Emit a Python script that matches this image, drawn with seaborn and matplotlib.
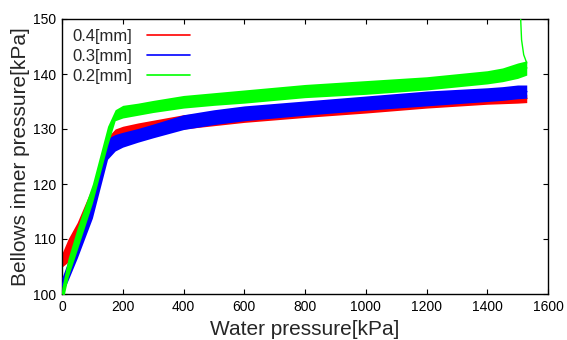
import pandas as pd
import seaborn as sns
import matplotlib
matplotlib.use('Agg')
import matplotlib.pyplot as plt

# Pressão de água [kPa] nos pontos
water_pressure = [0, 20, 50, 100, 150, 175, 200, 250, 300, 400, 500, 600, 800,
                  1000, 1200, 1400, 1450, 1500, 1530]

# Faixa (mínimo / máximo) da pressão interna do fole em cada ponto
low_04 = [104.9, 105.8, 109.5, 115.8, 125.0, 127.3, 128.0, 128.6, 129.1, 130.0, 130.6,
          131.2, 132.1, 132.9, 133.8, 134.5, 134.6, 134.7, 134.8]
high_04 = [107.4, 110.0, 113.0, 119.5, 128.5, 130.0, 130.5, 131.1, 131.6, 132.6, 133.0,
           133.3, 134.0, 134.8, 135.6, 136.2, 136.2, 136.3, 136.3]

low_03 = [100.0, 102.5, 106.5, 113.8, 124.5, 126.0, 126.7, 127.6, 128.4, 129.9, 130.8,
          131.5, 132.5, 133.4, 134.2, 135.0, 135.2, 135.5, 135.6]
high_03 = [103.0, 106.0, 110.2, 117.5, 128.3, 129.0, 129.4, 130.1, 130.9, 132.6, 133.5,
           134.2, 135.1, 136.0, 136.9, 137.5, 137.7, 138.0, 138.0]

low_02 = [98.0, 103.0, 108.0, 116.5, 127.0, 131.5, 132.0, 132.5, 133.0, 133.8, 134.3,
          134.7, 135.7, 136.3, 137.1, 138.2, 138.6, 139.2, 139.8]
high_02 = [101.3, 106.5, 112.0, 120.0, 130.5, 133.5, 134.3, 134.7, 135.2, 136.1, 136.6,
           137.1, 138.1, 138.8, 139.5, 140.6, 141.1, 142.0, 142.4]

# Subida final da série 0.2[mm]
spike_x = [1530, 1520, 1513, 1510, 1509]
spike_y = [142.0, 143.5, 146.2, 150.0, 153.0]

series = [
    ('0.4[mm]', low_04, high_04, '#ff0000'),
    ('0.3[mm]', low_03, high_03, '#0000ff'),
    ('0.2[mm]', low_02, high_02, '#00ff00'),
]

sns.set_style('ticks')
plt.rcParams['font.family'] = ['Liberation Sans', 'DejaVu Sans']

fig = plt.figure(figsize=(5.67, 3.4), dpi=100)
ax = fig.add_axes([62 / 567, 1 - 294 / 340, 486 / 567, 275 / 340])

for i, (name, low, high, color) in enumerate(series):
    df = pd.DataFrame({
        'x': water_pressure + water_pressure,
        'y': low + high,
    })
    sns.lineplot(data=df, x='x', y='y', ax=ax, color=color, label=name,
                 errorbar=('pi', 100), linewidth=1.2, zorder=2 + i + 0.5,
                 err_kws={'alpha': 1, 'linewidth': 0, 'zorder': 2 + i})

sns.lineplot(x=spike_x, y=spike_y, ax=ax, color='#00ff00', sort=False,
             estimator=None, linewidth=1.0, zorder=4.6)

ax.set_xlim(0, 1600)
ax.set_ylim(100, 150)
ax.set_xticks(range(0, 1601, 200))
ax.set_yticks(range(100, 151, 10))
ax.tick_params(direction='in', length=3.6, width=0.8, top=True, right=True,
               labelsize=10, pad=4.5, colors='black')
for s in ax.spines.values():
    s.set_linewidth(1.0)
    s.set_color('black')

ax.set_xlabel('Water pressure[kPa]', fontsize=15, labelpad=4)
ax.set_ylabel('Bellows inner pressure[kPa]', fontsize=15, labelpad=2)

handles = [l for l in ax.get_lines() if not l.get_label().startswith('_')]
ax.legend(handles=handles, labels=[h.get_label() for h in handles],
          loc='upper left', bbox_to_anchor=(0.022, 0.965), frameon=False,
          markerfirst=False, handlelength=2.6, handletextpad=0.85,
          labelspacing=0.3, fontsize=12, borderaxespad=0, borderpad=0)

fig.savefig('out.png', dpi=100)
